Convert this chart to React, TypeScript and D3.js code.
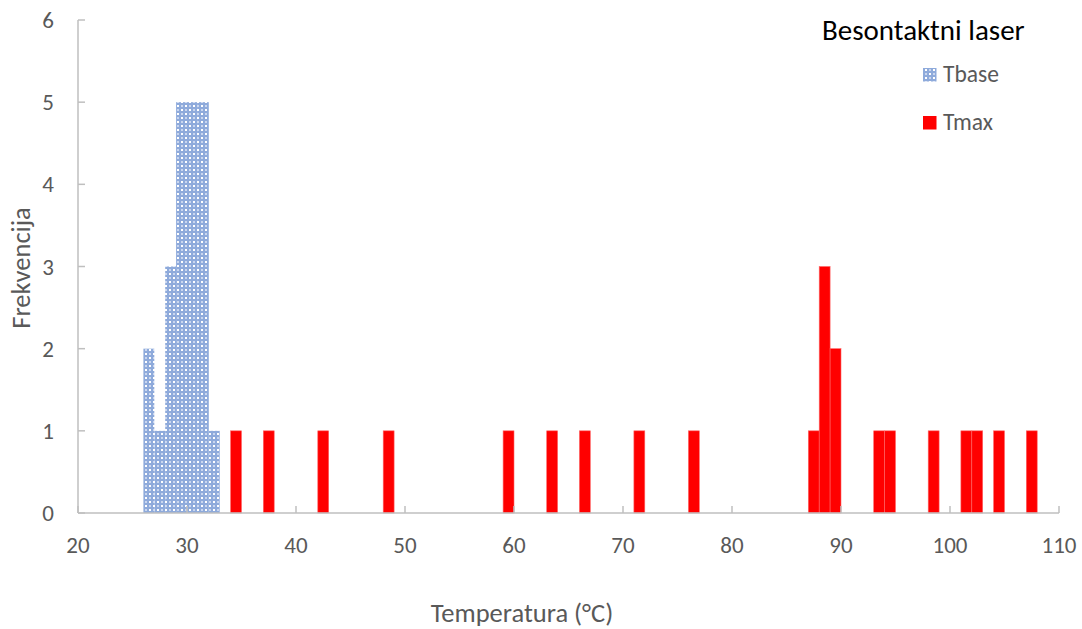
import React from 'react';
import * as d3 from 'd3';

// histogram bins (lower edge, bin width 1 °C) and counts
const tbaseBins = [26, 27, 28, 29, 30, 31, 32];
const tbaseCounts = [2, 1, 3, 5, 5, 5, 1];

const tmaxBins = [34, 37, 42, 48, 59, 63, 66, 71, 76, 87, 88, 89, 93, 94, 98, 101, 102, 104, 107];
const tmaxCounts = [1, 1, 1, 1, 1, 1, 1, 1, 1, 1, 3, 2, 1, 1, 1, 1, 1, 1, 1];

const xTicks = [20, 30, 40, 50, 60, 70, 80, 90, 100, 110];
const yTicks = [0, 1, 2, 3, 4, 5, 6];

const TITLE = 'Besontaktni laser';
const X_LABEL = 'Temperatura (°C)';
const Y_LABEL = 'Frekvencija';
const SERIES = ['Tbase', 'Tmax'];

const WIDTH = 1082;
const HEIGHT = 629;
const FONT = "Carlito, Lato, sans-serif";
const AXIS = '#bfbfbf';
const TEXT = '#595959';
const BLUE = '#8eaadb';
const RED = '#ff0000';

export default function App() {
  const x = d3.scaleLinear().domain([20, 110]).range([78, 1059]);
  const y = d3.scaleLinear().domain([0, 6]).range([513, 20]);

  const tbase = tbaseBins.map((b, i) => ({ x0: b, x1: b + 1, n: tbaseCounts[i] }));
  const tmax = tmaxBins.map((b, i) => ({ x0: b, x1: b + 1, n: tmaxCounts[i] }));

  return (
    <svg
      width={WIDTH}
      height={HEIGHT}
      style={{ position: 'absolute', left: 0, top: 0, background: '#fff' }}
      fontFamily={FONT}
    >
      <defs>
        <pattern id="tbasePat" width={8} height={8} patternUnits="userSpaceOnUse">
          <rect width={8} height={8} fill={BLUE} />
          <rect x={1} y={1} width={2} height={2} fill="#fff" />
          <rect x={5} y={5} width={2} height={2} fill="#fff" />
          <rect x={5} y={1} width={2} height={2} fill="#c9d6ef" />
          <rect x={1} y={5} width={2} height={2} fill="#c9d6ef" />
        </pattern>
      </defs>

      {/* bars */}
      {tbase.map((d, i) => (
        <rect
          key={'b' + i}
          x={x(d.x0)}
          y={y(d.n)}
          width={x(d.x1) - x(d.x0)}
          height={y(0) - y(d.n)}
          fill="url(#tbasePat)"
        />
      ))}
      {tmax.map((d, i) => (
        <rect
          key={'r' + i}
          x={x(d.x0)}
          y={y(d.n)}
          width={x(d.x1) - x(d.x0)}
          height={y(0) - y(d.n)}
          fill={RED}
          stroke="#ff6666"
          strokeWidth={0.6}
        />
      ))}

      {/* y axis */}
      <line x1={x(20)} x2={x(20)} y1={y(0)} y2={y(6)} stroke={AXIS} strokeWidth={1.5} />
      {yTicks.map((t) => (
        <g key={'yt' + t}>
          <line x1={x(20)} x2={x(20) + 7} y1={y(t)} y2={y(t)} stroke={AXIS} strokeWidth={1.5} />
          <text x={48} y={y(t)} dy="0.35em" textAnchor="middle" fontSize={23} fill={TEXT}>
            {t}
          </text>
        </g>
      ))}

      {/* x axis */}
      <line x1={x(20)} x2={x(110)} y1={y(0)} y2={y(0)} stroke={AXIS} strokeWidth={1.5} />
      {xTicks.map((t) => (
        <g key={'xt' + t}>
          <line x1={x(t)} x2={x(t)} y1={y(0)} y2={y(0) - 7} stroke={AXIS} strokeWidth={1.5} />
          <text x={x(t)} y={553} textAnchor="middle" fontSize={23} fill={TEXT}>
            {t}
          </text>
        </g>
      ))}

      {/* axis titles */}
      <text x={522} y={622} textAnchor="middle" fontSize={26.5} fill={TEXT}>
        {X_LABEL}
      </text>
      <text
        transform={`translate(30, 268) rotate(-90)`}
        textAnchor="middle"
        fontSize={26.5}
        fill={TEXT}
      >
        {Y_LABEL}
      </text>

      {/* title and legend */}
      <text x={822} y={40} fontSize={29} fill="#000">
        {TITLE}
      </text>
      <rect x={923} y={68} width={13.5} height={13.5} fill="url(#tbasePat)" />
      <text x={943} y={82} fontSize={23.5} fill={TEXT}>
        {SERIES[0]}
      </text>
      <rect x={923} y={116} width={13.5} height={13.5} fill={RED} />
      <text x={943} y={130} fontSize={23.5} fill={TEXT}>
        {SERIES[1]}
      </text>
    </svg>
  );
}
